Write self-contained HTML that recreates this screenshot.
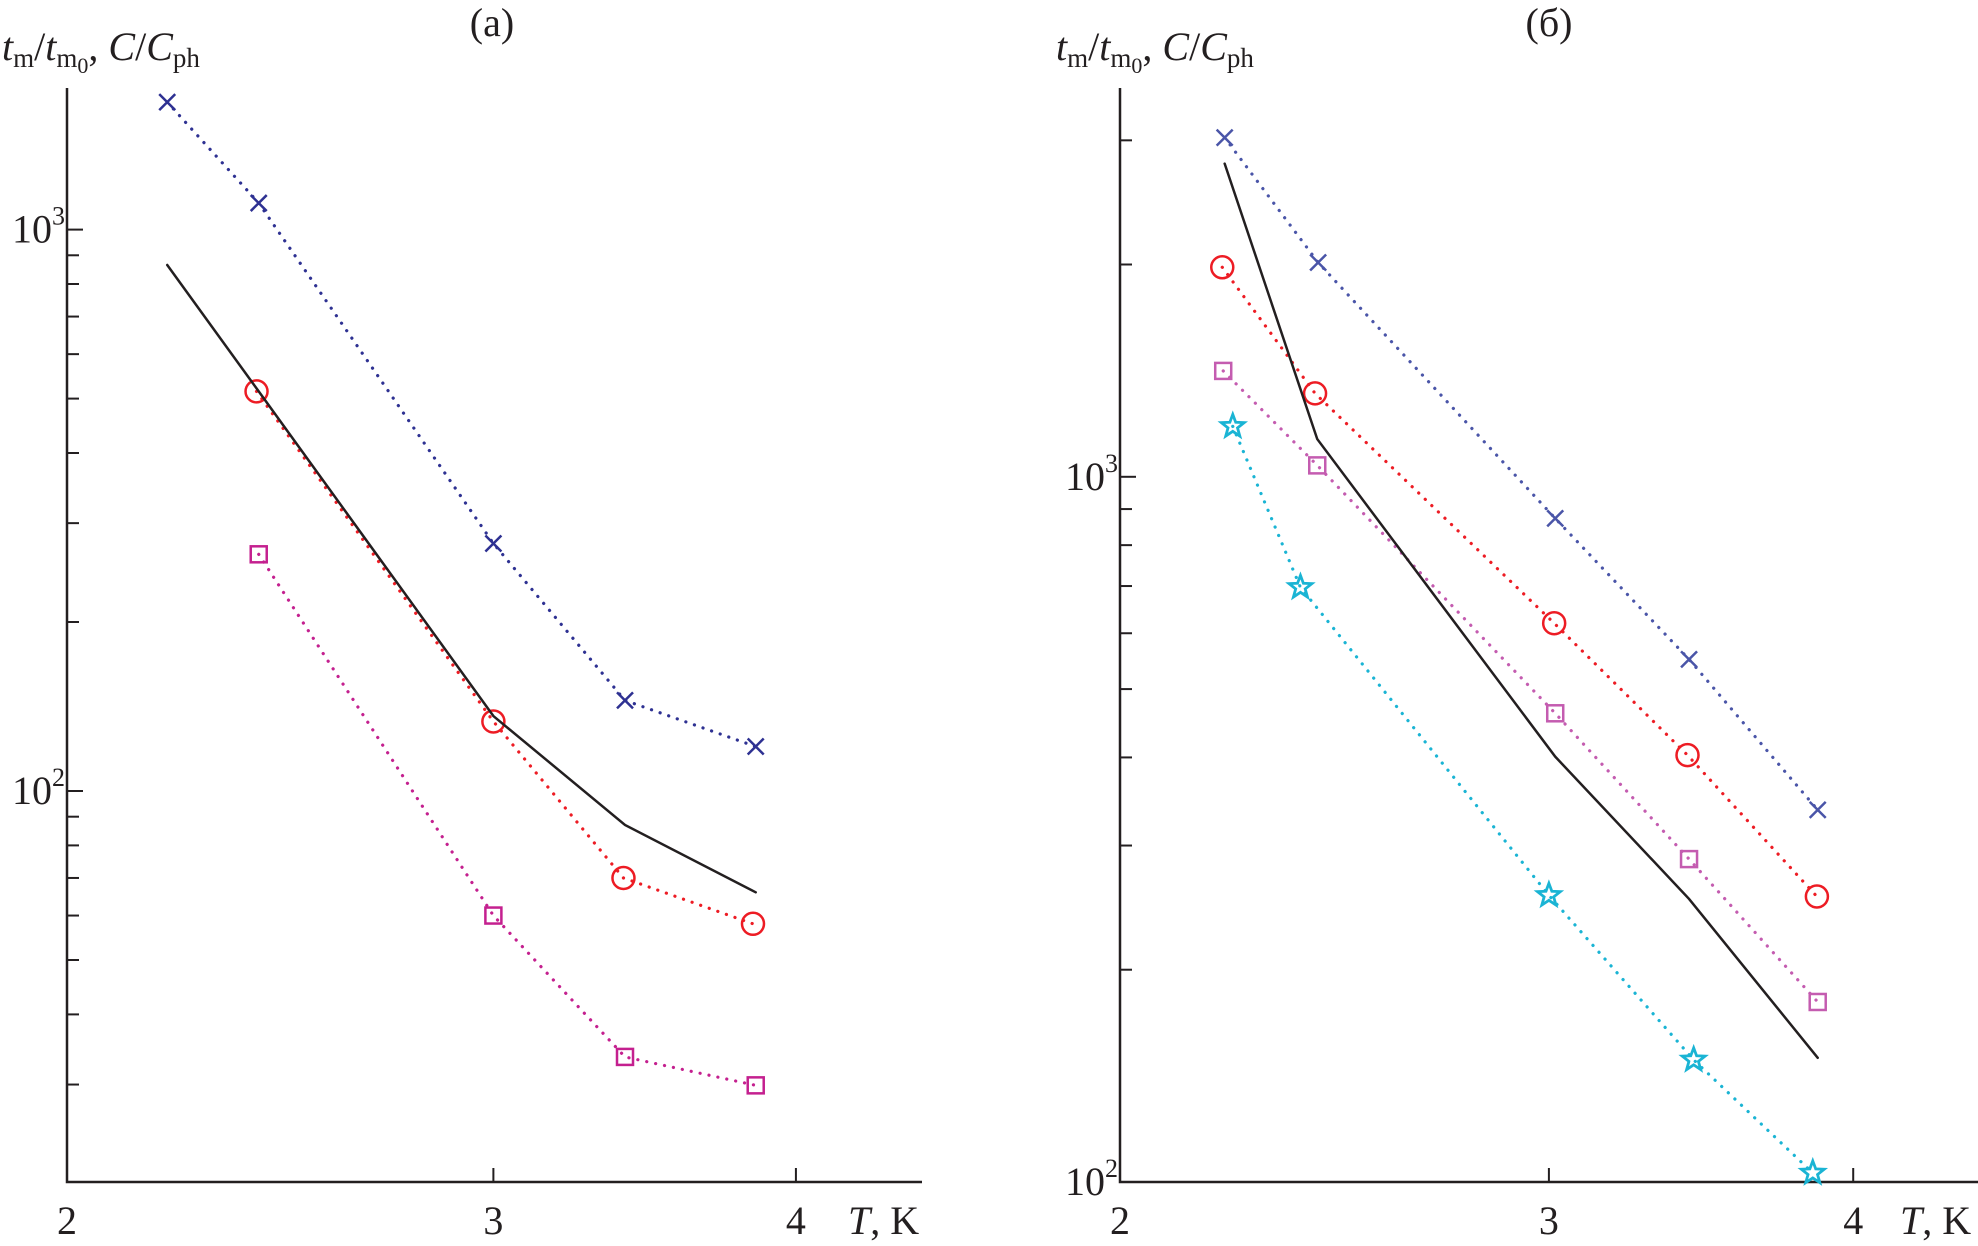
<!DOCTYPE html>
<html><head><meta charset="utf-8"><style>
body{margin:0;background:#fff}
svg text{font-family:"Liberation Serif",serif;fill:#231f20}
</style></head><body>
<svg id="chart" width="1978" height="1241" viewBox="0 0 1978 1241" xmlns="http://www.w3.org/2000/svg"></svg>
<script>
// Panel (a) data
const aT = [2.2, 2.4, 3.0, 3.4, 3.85];
const aCross = [1687, 1115, 276, 145, 120];
const aLine = [865, 515, 136, 87, 66];
const aCircleT = [2.395, 3.0, 3.395, 3.84];
const aCircle = [515, 133, 70, 58];
const aSquareT = [2.4, 3.0, 3.4, 3.85];
const aSquare = [264, 60, 33.6, 29.9];
// Panel (б) data
const bCrossT = [2.208, 2.412, 3.018, 3.425, 3.868];
const bCross = [3027, 2013, 873, 551, 337];
const bCircleT = [2.203, 2.405, 3.015, 3.42, 3.865];
const bCircle = [1982, 1313, 620, 403, 254];
const bSquareT = [2.205, 2.41, 3.018, 3.425, 3.868];
const bSquare = [1413, 1038, 462, 287, 180];
const bStarT = [2.225, 2.372, 3.0, 3.44, 3.85];
const bStar = [1179, 697, 255, 149, 103];
const bLineT = [2.208, 2.41, 3.018, 3.425, 3.868];
const bLine = [2780, 1131, 401, 252, 150];
const xTicks = [2, 3, 4];

const NS = "http://www.w3.org/2000/svg";
const svg = document.getElementById('chart');
function el(tag, attrs, parent){const e=document.createElementNS(NS,tag);for(const k in attrs)e.setAttribute(k,attrs[k]);(parent||svg).appendChild(e);return e;}

function makePanel(p){
  const g = el('g',{});
  
  
  const xs = T => p.x0 + p.xk*Math.log(T/2);
  const ys = v => p.y1000 + (3-Math.log10(v))*p.dec;
  const ax = el('path',{d:`M${p.x0},${p.top} V${p.bottom} H${p.right}`,stroke:'#231f20','stroke-width':2.5,fill:'none'},g);
  
  
  for (let d=1; d<=4; d++){
    for (let m=1; m<=9; m++){
      const v = m*Math.pow(10,d); const y = ys(v);
      if (y < p.top || y > p.bottom) continue;
      const len = m===1?16:12;
      const t = el('line',{x1:p.x0,x2:p.x0+len,y1:y,y2:y,stroke:'#231f20','stroke-width':2},g);
      
      
    }
  }
  [[2,100],[3,1000]].forEach(([e,v])=>{
    const y=ys(v); if(y<p.top-5||y>p.bottom+5) return;
    const tx = el('text',{x:p.x0-2,y:y+13,'font-size':40,'text-anchor':'end'},g);
    tx.textContent='10';
    const sp = el('tspan',{dy:-18,'font-size':26},tx); sp.textContent=e;
    
    
  });
  xTicks.forEach(T=>{
    const x=xs(T);
    if (T>2){const t=el('line',{x1:x,x2:x,y1:p.bottom,y2:p.bottom-14,stroke:'#231f20','stroke-width':2},g);
      
      }
    const tx=el('text',{x:x,y:p.bottom+52,'font-size':40,'text-anchor':'middle'},g);
    tx.textContent=T;
    
    
  });
  const xl = el('text',{x:p.xlabelX,y:p.bottom+52,'font-size':40},g);
  xl.innerHTML='<tspan font-style="italic">T</tspan>, K';
  
  
  const yl = el('text',{x:p.ylabelX,y:60,'font-size':40},g);
  yl.innerHTML='<tspan font-style="italic">t</tspan><tspan font-size="27" dy="7">m</tspan><tspan dy="-7">/</tspan><tspan font-style="italic">t</tspan><tspan font-size="27" dy="7">m</tspan><tspan font-size="22" dy="6">0</tspan><tspan dy="-13">, </tspan><tspan font-style="italic">C</tspan>/<tspan font-style="italic">C</tspan><tspan font-size="27" dy="7">ph</tspan>';
  
  
  const ti = el('text',{x:p.titleX,y:36,'font-size':40,'text-anchor':'middle'},g);
  ti.textContent=p.title;
  
  

  p.series.forEach(s=>{
    const pts = s.T.map((T,i)=>[xs(T), ys(s.v[i])]);
    const pl = el('polyline',{points:pts.map(q=>q.join(',')).join(' '),fill:'none',stroke:s.color,'stroke-width':s.solid?2.5:3.2,
      'stroke-dasharray':s.solid?'none':'0.1,9','stroke-linecap':'round'},g);
    
    
    if (!s.marker) return;
    pts.forEach(([x,y])=>{
      let m;
      if (s.marker==='x') m=el('path',{d:`M${x-8},${y-8}L${x+8},${y+8}M${x-8},${y+8}L${x+8},${y-8}`,stroke:s.color,'stroke-width':2.5,fill:'none'},g);
      else if (s.marker==='o') m=el('circle',{cx:x,cy:y,r:11,stroke:s.color,'stroke-width':2.5,fill:'none'},g);
      else if (s.marker==='s') m=el('rect',{x:x-8,y:y-8,width:16,height:16,stroke:s.color,'stroke-width':2.5,fill:'none'},g);
      else {
        let d=''; for(let k=0;k<10;k++){const r=k%2?5:12;const a=-Math.PI/2+k*Math.PI/5;d+=(k?'L':'M')+(x+r*Math.cos(a))+','+(y+r*Math.sin(a));}
        m=el('path',{d:d+'Z',stroke:s.color,'stroke-width':2.8,fill:'none'},g);
      }
      
      
    });
  });
}

makePanel({name:'panel-a',title:'(a)',titleX:492,x0:67,xk:1051.6,y1000:229.6,dec:561.4,top:88,bottom:1182,right:922,xlabelX:848,ylabelX:2,
  series:[
    {name:'a-cross',T:aT,v:aCross,color:'#2e3192',marker:'x'},
    {name:'a-circle',T:aCircleT,v:aCircle,color:'#ed1c24',marker:'o'},
    {name:'a-square',T:aSquareT,v:aSquare,color:'#c4208f',marker:'s'},
    {name:'a-solid',T:aT,v:aLine,color:'#231f20',solid:true}
  ]});
makePanel({name:'panel-b',title:'(б)',titleX:1549,x0:1120,xk:1057.8,y1000:476.8,dec:705.2,top:88,bottom:1182,right:1978,xlabelX:1900,ylabelX:1056,
  series:[
    {name:'b-cross',T:bCrossT,v:bCross,color:'#4a55a8',marker:'x'},
    {name:'b-circle',T:bCircleT,v:bCircle,color:'#ed1c24',marker:'o'},
    {name:'b-square',T:bSquareT,v:bSquare,color:'#c45cb0',marker:'s'},
    {name:'b-star',T:bStarT,v:bStar,color:'#1ab4d4',marker:'star'},
    {name:'b-solid',T:bLineT,v:bLine,color:'#231f20',solid:true}
  ]});
</script>
</body></html>
